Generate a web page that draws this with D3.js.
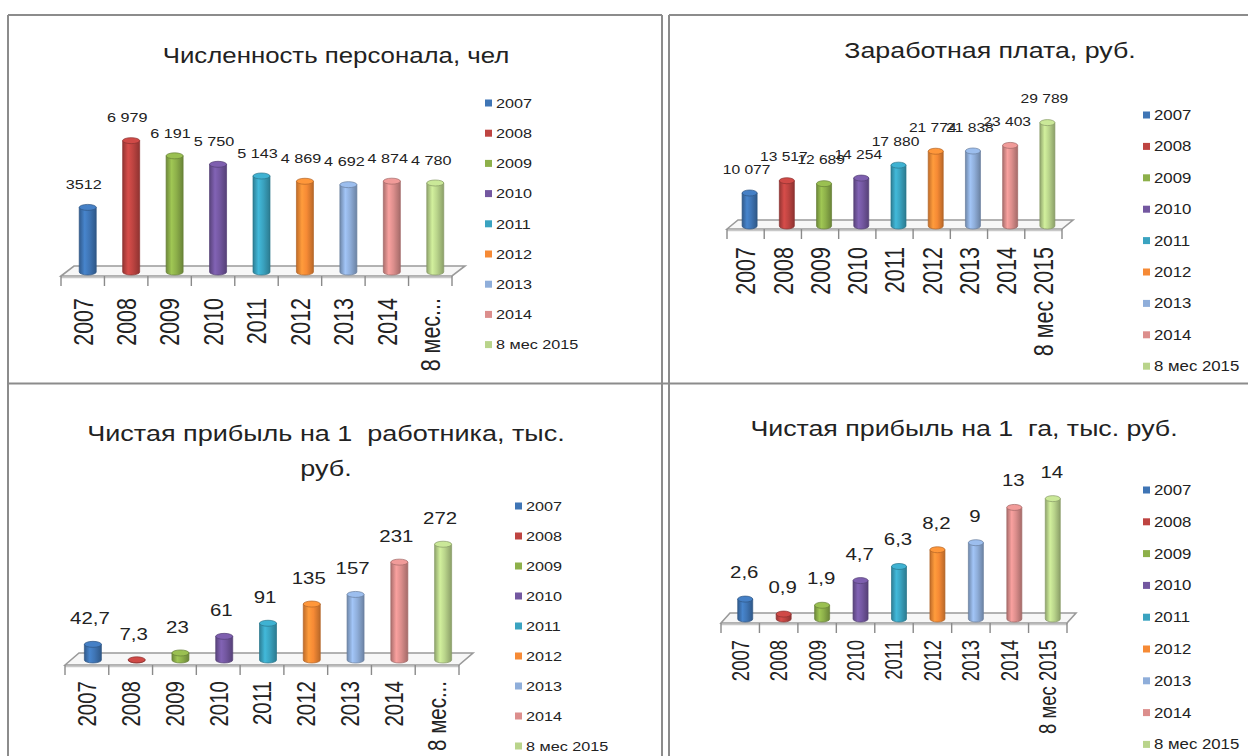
<!DOCTYPE html>
<html>
<head>
<meta charset="utf-8">
<script src="https://cdn.jsdelivr.net/npm/d3@7"></script>
<style>
  html, body { margin: 0; padding: 0; background: #fff; }
  svg { display: block; }
  text { font-family: "Liberation Sans", Arial, sans-serif; fill: #222; white-space: pre; }
</style>
</head>
<body>
<svg id="chart" width="1248" height="756"></svg>
<script>
// ---- data -------------------------------------------------------------
const categories = ["2007", "2008", "2009", "2010", "2011", "2012", "2013", "2014", "8 мес 2015"];
const shortCategories = ["2007", "2008", "2009", "2010", "2011", "2012", "2013", "2014", "8 мес..."];

const staff = [3512, 6979, 6191, 5750, 5143, 4869, 4692, 4874, 4780];
const staffLabels = ["3512", "6 979", "6 191", "5 750", "5 143", "4 869", "4 692", "4 874", "4 780"];
const salary = [10077, 13517, 12689, 14254, 17880, 21774, 21838, 23403, 29789];
const profitPerWorker = [42.7, 7.3, 23, 61, 91, 135, 157, 231, 272];
const profitPerHa = [2.6, 0.9, 1.9, 4.7, 6.3, 8.2, 9, 13, 14];

const titles = [
  ["Численность персонала, чел"],
  ["Заработная плата, руб."],
  ["Чистая прибыль на 1  работника, тыс.", "руб."],
  ["Чистая прибыль на 1  га, тыс. руб."]
];

// ---- styles -----------------------------------------------------------
const seriesColors = ["#3F75B5", "#BE4441", "#8DB04A", "#7357A0", "#3AA3C0",
                      "#F68A35", "#8FAEDA", "#DC8E8C", "#B9D48B"];
const ru = d3.formatLocale({ decimal: ",", thousands: " ", grouping: [3], currency: ["", " руб."] });
const fmt = ru.format(",~r");
const SX = 1.2;               // horizontal stretch of the lettering
const SX_ROT = 1.3;           // stretch of the rotated category labels

const panels = [
  { title: titles[0], tx: 336, ty: [55], tfs: 21.5,
    values: staff, labels: staffLabels, axisLabels: shortCategories,
    domain: [0, 8000], base: 272, top: 118,
    ax0: 61, ax1: 452, front: 276, fdx: 13, fdy: -10, bdx: 5, barW: 17,
    lblDx: -4, lblDy: -20, lfs: 13.5, cfs: 21.5, cOff: 22,
    legX: 485, legY: 103, legStep: 30.2, legFs: 13.5 },
  { title: titles[1], tx: 990, ty: [50], tfs: 22.3,
    values: salary, labels: salary.map(fmt), axisLabels: categories,
    domain: [0, 35000], base: 226, top: 101,
    ax0: 727, ax1: 1062, front: 229, fdx: 11, fdy: -9, bdx: 4, barW: 15,
    lblDx: -3, lblDy: -21, lfs: 13, cfs: 21.5, cOff: 18,
    legX: 1143, legY: 115, legStep: 31.4, legFs: 14 },
  { title: titles[2], tx: 326, ty: [433, 468], tfs: 22.5,
    values: profitPerWorker, labels: profitPerWorker.map(fmt), axisLabels: shortCategories,
    domain: [0, 300], base: 660, top: 529,
    ax0: 65, ax1: 459, front: 665, fdx: 14, fdy: -12, bdx: 6, barW: 17,
    lblDx: -3, lblDy: -23, lfs: 17, cfs: 20.5, cOff: 16,
    legX: 515, legY: 506, legStep: 30, legFs: 13.5 },
  { title: titles[3], tx: 964, ty: [428], tfs: 22.3,
    values: profitPerHa, labels: profitPerHa.map(fmt), axisLabels: categories,
    domain: [0, 16], base: 619, top: 478,
    ax0: 721, ax1: 1067, front: 623, fdx: 9, fdy: -10, bdx: 5, barW: 15,
    lblDx: -1, lblDy: -24, lfs: 17, cfs: 18.5, cOff: 17,
    legX: 1143, legY: 490, legStep: 31.8, legFs: 14 }
];

const svg = d3.select("#chart");

// cylinder shading, one gradient per series colour
const defs = svg.append("defs");
seriesColors.forEach((c, i) => {
  const g = defs.append("linearGradient").attr("id", "cyl" + i)
    .attr("x1", "0%").attr("x2", "100%").attr("y1", "0%").attr("y2", "0%");
  g.append("stop").attr("offset", "0%").attr("stop-color", d3.color(c).darker(0.7));
  g.append("stop").attr("offset", "32%").attr("stop-color", d3.color(c).brighter(0.35));
  g.append("stop").attr("offset", "60%").attr("stop-color", c);
  g.append("stop").attr("offset", "100%").attr("stop-color", d3.color(c).darker(0.8));
});

// ---- panel frames -----------------------------------------------------
const frame = svg.append("g").attr("stroke", "#8c8c8c").attr("stroke-width", 2).attr("fill", "none");
[[8, 15, 662, 15], [669, 15, 1248, 15], [8, 15, 8, 756], [662, 15, 662, 756],
 [669, 15, 669, 756], [8, 383.5, 1248, 383.5]].forEach(([x1, y1, x2, y2]) =>
  frame.append("line").attr("x1", x1).attr("y1", y1).attr("x2", x2).attr("y2", y2));

// stretched horizontal text helper
function label(g, x, y, str, size, anchor = "middle") {
  const t = g.append("g").attr("transform", `translate(${x},${y}) scale(${SX},1)`);
  return t.append("text").attr("x", 0).attr("y", 0).attr("dy", "0.35em")
    .attr("text-anchor", anchor).attr("font-size", size).text(str);
}

panels.forEach(p => {
  const g = svg.append("g");

  // title
  p.title.forEach((line, i) => label(g, p.tx, p.ty[i], line, p.tfs).attr("fill", "#1a1a1a"));

  const x = d3.scaleBand().domain(categories).range([p.ax0, p.ax1]).paddingInner(0).paddingOuter(0);
  const y = d3.scaleLinear().domain(p.domain).range([p.base, p.top]);

  // 3-D floor
  const floor = [[p.ax0, p.front], [p.ax0 + p.fdx, p.front + p.fdy],
                 [p.ax1 + p.fdx, p.front + p.fdy], [p.ax1, p.front]];
  g.append("path").attr("d", d3.line()(floor) + "Z")
    .attr("fill", "#f7f7f7").attr("stroke", "#9a9a9a").attr("stroke-width", 1.6);
  g.append("line").attr("x1", p.ax0).attr("x2", p.ax1)
    .attr("y1", p.front + 1.5).attr("y2", p.front + 1.5)
    .attr("stroke", "#c8c8c8").attr("stroke-width", 1.5);

  // category axis
  const axis = g.append("g").attr("transform", `translate(0,${p.front})`)
    .call(d3.axisBottom(x).tickSize(0).tickFormat((d, i) => p.axisLabels[i]));
  axis.select(".domain").remove();
  axis.selectAll("text")
    .attr("font-family", "Liberation Sans, Arial, sans-serif")
    .attr("font-size", p.cfs).attr("fill", "#1a1a1a")
    .attr("x", 0).attr("y", 0).attr("dy", "0.35em")
    .attr("text-anchor", "end")
    .attr("transform", `translate(0,${p.cOff}) scale(${SX_ROT},1) rotate(-90)`);

  // boundary tick marks
  d3.range(categories.length + 1).forEach(i => {
    const tx = p.ax0 + i * x.step();
    g.append("line").attr("x1", tx).attr("x2", tx)
      .attr("y1", p.front).attr("y2", p.front + 10)
      .attr("stroke", "#8a8a8a").attr("stroke-width", 1.4);
  });

  // cylinders
  const ry = 3;
  p.values.forEach((v, i) => {
    const c = seriesColors[i];
    const cx = x(categories[i]) + x.bandwidth() / 2 + p.bdx;
    const rx = p.barW / 2;
    const yb = p.base;
    const yt = Math.min(y(v) + ry, yb);
    const edge = d3.color(c).darker(0.9);
    g.append("path")
      .attr("d", `M${cx - rx},${yt} L${cx - rx},${yb} A${rx},${ry} 0 0 0 ${cx + rx},${yb} L${cx + rx},${yt} Z`)
      .attr("fill", `url(#cyl${i})`).attr("stroke", edge).attr("stroke-width", 0.7);
    g.append("ellipse").attr("cx", cx).attr("cy", yt).attr("rx", rx).attr("ry", ry)
      .attr("fill", d3.color(c).brighter(0.25)).attr("stroke", edge).attr("stroke-width", 0.7);

    label(g, cx + p.lblDx, y(v) + p.lblDy, p.labels[i], p.lfs);
  });

  // legend
  categories.forEach((cat, i) => {
    const ly = p.legY + i * p.legStep;
    g.append("rect").attr("x", p.legX).attr("y", ly - 3.5).attr("width", 7).attr("height", 7)
      .attr("fill", seriesColors[i]);
    label(g, p.legX + 11, ly, cat, p.legFs, "start");
  });
});
</script>
</body>
</html>
